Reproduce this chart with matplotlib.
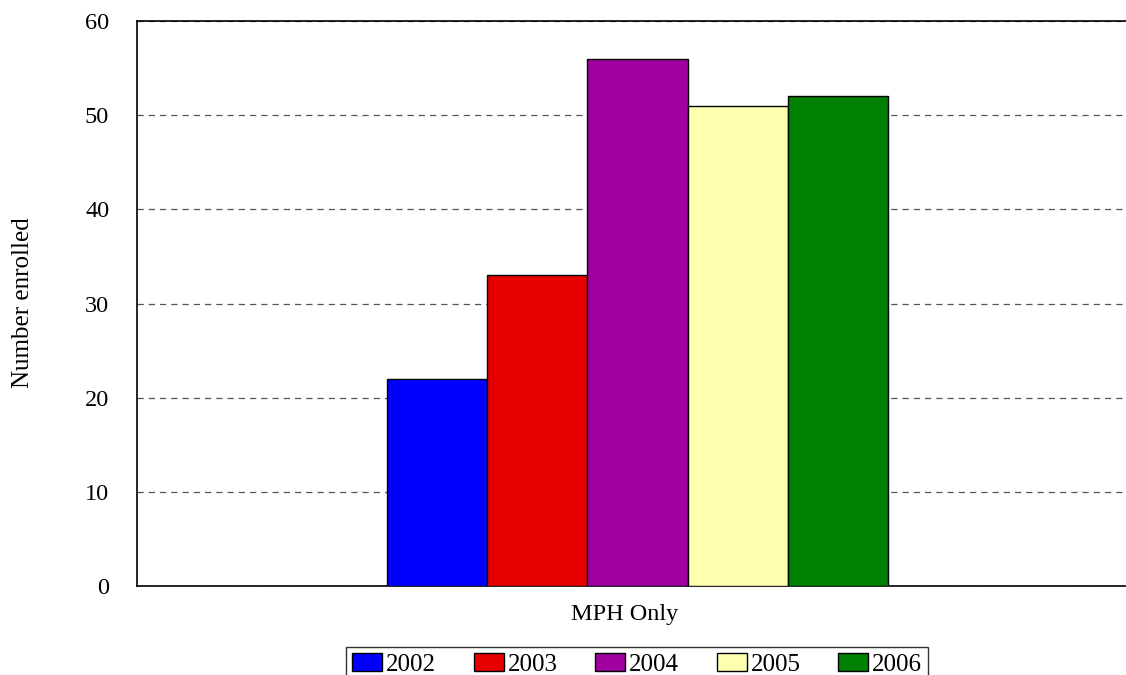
import matplotlib.pyplot as plt

years = ["2002", "2003", "2004", "2005", "2006"]
enrolled = [22, 33, 56, 51, 52]
colors = ["#0000FF", "#E80000", "#A000A0", "#FFFFB0", "#008000"]
category = "MPH Only"

plt.rcParams["font.family"] = ["Liberation Serif", "DejaVu Serif"]

fig = plt.figure(figsize=(11.26, 6.75), dpi=100)
ax = fig.add_axes([137 / 1126, 1 - 586 / 675, 989 / 1126, 565 / 675])

width = 0.2
for i, (year, val) in enumerate(zip(years, enrolled)):
    x = (i - 2) * width
    ax.bar(x, val, width=width, color=colors[i], edgecolor="black",
           linewidth=1.0, label=year, zorder=3)

ax.set_xlim(-0.999, 0.975)
ax.set_ylim(0, 60)
ax.set_yticks(range(0, 61, 10))
ax.set_xticks([-0.025])
ax.set_xticklabels([category])
ax.tick_params(axis="y", length=0, pad=20, labelsize=17.5)
ax.tick_params(axis="x", length=0, pad=13, labelsize=17.5)

ax.yaxis.grid(True, linestyle=(0, (5, 4)), color="#555555", linewidth=0.9, zorder=0)
ax.spines["right"].set_visible(False)
for s in ["left", "top", "bottom"]:
    ax.spines[s].set_linewidth(1.2)
    ax.spines[s].set_color("black")

fig.text(23 / 1126, 1 - 303 / 675, "Number enrolled", rotation=90,
         ha="center", va="center", fontsize=18)

leg = fig.legend(loc="upper center", bbox_to_anchor=(637 / 1126, 1 - 647 / 675),
                 ncol=5, fontsize=18, frameon=True, fancybox=False,
                 edgecolor="black", handlelength=1.2, handleheight=0.7,
                 handletextpad=0.16, columnspacing=1.5, borderpad=0.25,
                 borderaxespad=0)
leg.get_frame().set_linewidth(1.0)

plt.savefig("out.png", dpi=100)
